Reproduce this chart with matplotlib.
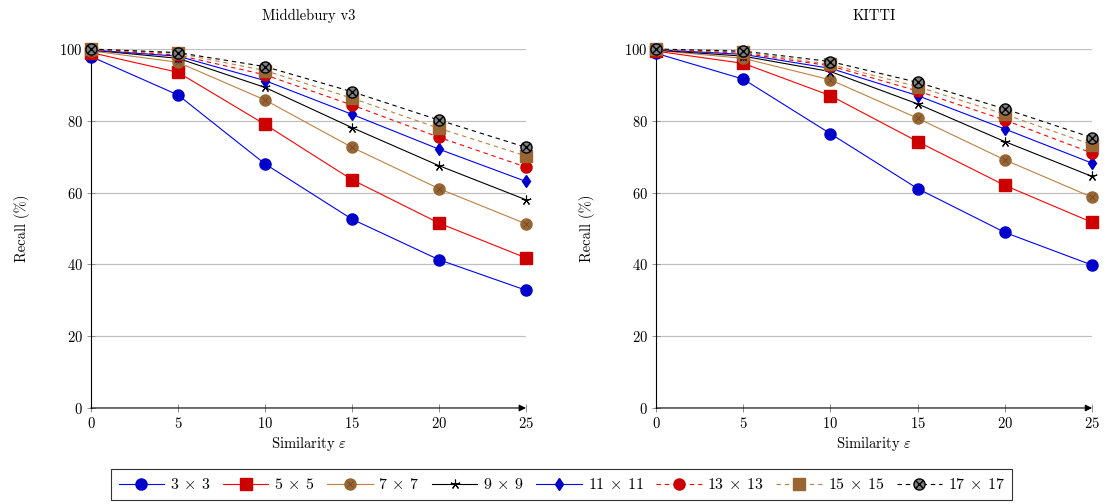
import numpy as np
import matplotlib
matplotlib.use("Agg")
import matplotlib.pyplot as plt
from matplotlib.legend_handler import HandlerTuple

plt.rcParams['font.family'] = ['cmr10', 'DejaVu Serif']
plt.rcParams['mathtext.fontset'] = 'cm'
plt.rcParams['axes.formatter.use_mathtext'] = True

# similarity thresholds
eps = [0, 5, 10, 15, 20, 25]
windows = ['3 $\\times$ 3', '5 $\\times$ 5', '7 $\\times$ 7', '9 $\\times$ 9',
           '11 $\\times$ 11', '13 $\\times$ 13', '15 $\\times$ 15', '17 $\\times$ 17']

# recall (%) per window size, Middlebury v3
mb_3 = [97.9, 87.2, 68.0, 52.6, 41.3, 32.8]
mb_5 = [99.0, 93.5, 79.0, 63.6, 51.5, 41.8]
mb_7 = [99.5, 96.3, 85.8, 72.6, 61.1, 51.3]
mb_9 = [99.7, 97.4, 89.3, 78.1, 67.5, 58.0]
mb_11 = [99.7, 98.0, 91.2, 81.8, 72.1, 63.1]
mb_13 = [99.8, 98.3, 92.8, 84.4, 75.4, 67.1]
mb_15 = [99.9, 98.8, 94.0, 86.3, 77.9, 70.2]
mb_17 = [100.0, 99.0, 95.1, 88.1, 80.2, 72.6]

# recall (%) per window size, KITTI
kt_3 = [98.8, 91.6, 76.4, 61.1, 48.9, 39.8]
kt_5 = [99.4, 96.0, 87.0, 74.2, 62.0, 51.7]
kt_7 = [99.6, 97.4, 91.4, 80.7, 69.1, 58.7]
kt_9 = [99.7, 98.0, 93.7, 84.7, 74.2, 64.5]
kt_11 = [99.8, 98.5, 94.6, 87.0, 77.7, 68.2]
kt_13 = [99.8, 98.8, 95.3, 88.3, 80.2, 71.0]
kt_15 = [99.9, 99.1, 95.7, 89.5, 81.8, 73.3]
kt_17 = [100.0, 99.4, 96.5, 90.7, 83.3, 75.3]

mb_all = [mb_3, mb_5, mb_7, mb_9, mb_11, mb_13, mb_15, mb_17]
kt_all = [kt_3, kt_5, kt_7, kt_9, kt_11, kt_13, kt_15, kt_17]

blue, red, brown = '#0000ff', '#ff0000', '#bf8040'
dash = (0, (4, 3.5))
styles = [
    dict(color=blue, marker='o', mfc='#0000cc', mec='#0000cc', ms=8, ls='-'),
    dict(color=red, marker='s', mfc='#cc0000', mec='#cc0000', ms=8, ls='-'),
    dict(color=brown, marker='o', mfc='#996633', mec='#996633', ms=8, ls='-'),
    dict(color='black', marker=(5, 2, 0), mfc='black', mec='black', ms=7, mew=0.8, ls='-'),
    dict(color=blue, marker='d', mfc='#0000cc', mec='#0000cc', ms=6.5, ls='-'),
    dict(color=red, marker='o', mfc='#cc0000', mec='#cc0000', ms=8, ls=dash),
    dict(color=brown, marker='s', mfc='#996633', mec='#996633', ms=8, ls=dash),
    dict(color='black', marker='o', mfc='#808080', mec='black', ms=8, ls=dash),
]


def draw_panel(ax, series, title):
    handles = []
    for i, (vals, st) in enumerate(zip(series, styles)):
        line, = ax.plot(eps, vals, lw=0.8, clip_on=False, zorder=3 + i, **st)
        h = line
        if i == 2:
            xm, = ax.plot(eps, vals, ls='none', marker='x', ms=4.5, mec='#6b4a2a', mew=0.6,
                          clip_on=False, zorder=3 + i)
            h = (line, xm)
        if i == 7:
            xm, = ax.plot(eps, vals, ls='none', marker='x', ms=5.5, mec='black', mew=1.0,
                          clip_on=False, zorder=3 + i)
            h = (line, xm)
        handles.append(h)
    ax.set_xlim(0, 25)
    ax.set_ylim(0, 100)
    ax.set_xticks(eps)
    ax.set_yticks([0, 20, 40, 60, 80, 100])
    ax.grid(axis='y', color='#c0c0c0', lw=0.9)
    ax.set_axisbelow(True)
    for s in ['top', 'right', 'bottom']:
        ax.spines[s].set_visible(False)
    ax.spines['left'].set_linewidth(0.8)
    ax.annotate('', xy=(1.0, 0), xytext=(0, 0), xycoords='axes fraction',
                arrowprops=dict(arrowstyle='-|>', color='black', lw=0.8,
                                shrinkA=0, shrinkB=0, mutation_scale=10))
    ax.tick_params(direction='inout', length=6, width=0.7, color='#909090',
                   labelsize=10.5, pad=3)
    ax.set_title(title, fontsize=10.5, pad=21)
    ax.set_xlabel('Similarity $\\varepsilon$', fontsize=10.5, labelpad=3)
    ax.set_ylabel('Recall (%)', fontsize=10.5, labelpad=21)
    return handles


fig = plt.figure(figsize=(11.12, 5.04), dpi=100)
ax1 = fig.add_axes([0.0818, 0.1905, 0.3912, 0.7123])
ax2 = fig.add_axes([0.5900, 0.1905, 0.3921, 0.7123])

handles = draw_panel(ax1, mb_all, 'Middlebury v3')
draw_panel(ax2, kt_all, 'KITTI')

leg = fig.legend(handles, windows, loc='center', bbox_to_anchor=(0.505, 0.038),
                 ncol=8, fontsize=11.5, frameon=True, fancybox=False,
                 edgecolor='black', handlelength=2.85, handletextpad=0.36,
                 columnspacing=0.8, borderpad=0.5, borderaxespad=0,
                 handler_map={tuple: HandlerTuple(ndivide=1, pad=0)})
leg.get_frame().set_linewidth(0.8)

fig.savefig('out.png', dpi=100)
